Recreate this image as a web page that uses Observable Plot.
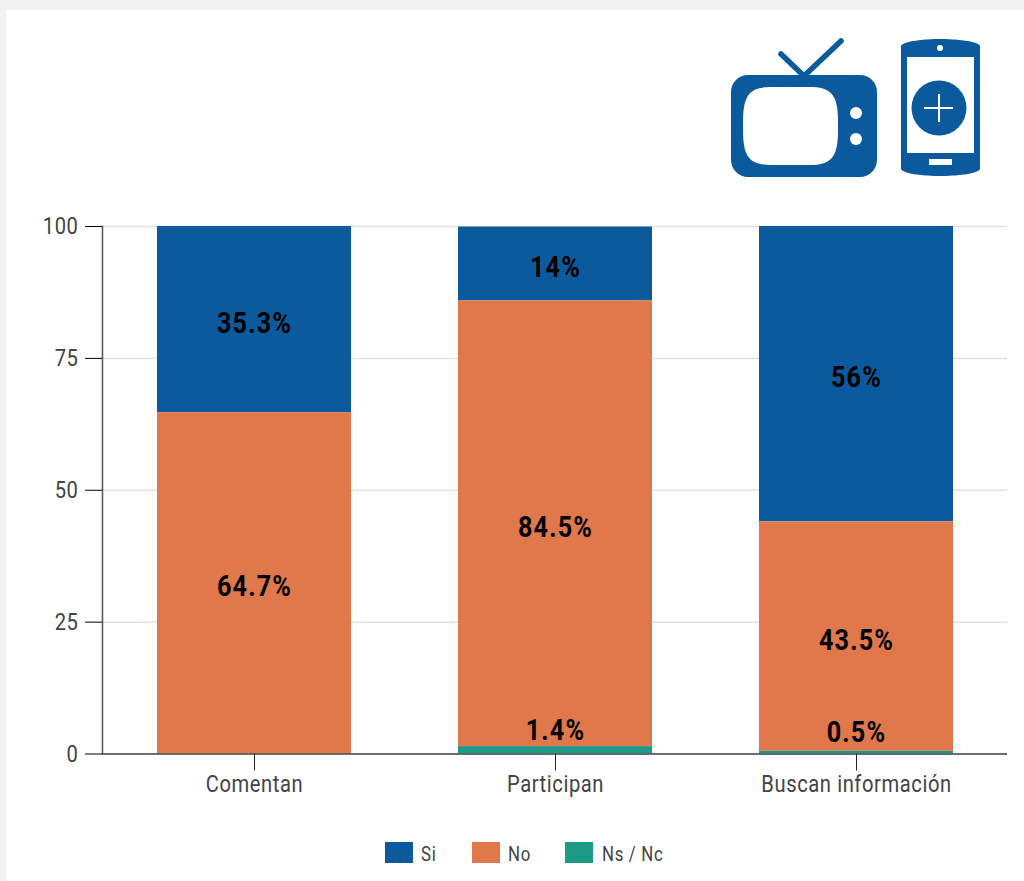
<!DOCTYPE html>
<html lang="es">
<head>
<meta charset="utf-8">
<script src="https://cdn.jsdelivr.net/npm/d3@7"></script>
<script src="https://cdn.jsdelivr.net/npm/@observablehq/plot@0.6"></script>
<style>
  html, body { margin: 0; padding: 0; background: #f2f2f2; }
  #page { position: absolute; left: 6px; top: 10px; width: 1018px; height: 871px; background: #fff; overflow: hidden; }
  #stage { position: absolute; left: 0; top: 0; width: 1024px; height: 881px; }
  #chart, #icons { position: absolute; left: 0; top: 0; }
  #legend { position: absolute; left: 0; top: 842px; height: 21px; font: 20px Roboto, sans-serif; letter-spacing: 0.8px; color: #444; }
  #legend .key { position: absolute; top: 0; width: 28px; height: 21px; }
  #legend .name { position: absolute; top: 2px; line-height: 21px; white-space: nowrap; transform-origin: left center; transform: scaleX(0.84); }
</style>
</head>
<body>
<div id="page"></div>
<div id="stage">
  <div id="chart"></div>
  <svg id="icons" width="1024" height="200" viewBox="0 0 1024 200">
    <!-- television -->
    <g fill="#0b5a9e">
      <path d="M804 76 L781 54 M804 76 L841 41" stroke="#0b5a9e" stroke-width="5.5" stroke-linecap="round" fill="none"/>
      <rect x="731" y="75" width="146" height="102" rx="17"/>
      <path fill="#fff" d="M743 122 C743 94 750 87 772 87 L809 87 C831 87 838 94 838 122 L838 130 C838 158 831 165 809 165 L772 165 C750 165 743 158 743 130 Z"/>
      <circle cx="856" cy="113" r="6" fill="#fff"/>
      <circle cx="856" cy="139" r="6" fill="#fff"/>
    </g>
    <!-- phone -->
    <g fill="#0b5a9e">
      <path d="M901 46 C903 41 925 39 940 39 C955 39 978 41 980 46 L980 169 C978 174 955 176 940 176 C925 176 903 174 901 169 Z"/>
      <rect x="907" y="57" width="67" height="96" fill="#fff"/>
      <circle cx="940" cy="48" r="3" fill="#fff"/>
      <circle cx="939" cy="108" r="27.5"/>
      <path d="M924 108 H953 M939 94 V122" stroke="#fff" stroke-width="2" fill="none"/>
      <rect x="929" y="159" width="23" height="6" fill="#fff"/>
    </g>
  </svg>
  <div id="legend"></div>
</div>
<script>
// Share of respondents per activity while watching television with a phone at hand
const actividades = ["Comentan", "Participan", "Buscan información"];
const respuestas = ["Si", "No", "Ns / Nc"];
const colores = ["#0b5a9e", "#e0784c", "#1c9a88"];
const si = [35.3, 14, 56];
const no = [64.7, 84.5, 43.5];
const nsnc = [0, 1.4, 0.5];
const marcasY = [0, 25, 50, 75, 100];

const filas = actividades.flatMap((actividad, i) => [
  {actividad, respuesta: "Si", valor: si[i]},
  {actividad, respuesta: "No", valor: no[i]},
  {actividad, respuesta: "Ns / Nc", valor: nsnc[i]}
]);

const apilado = {x: "actividad", y: "valor", z: "respuesta", order: ["Ns / Nc", "No", "Si"]};
const etiqueta = (d) => `${d.valor}%`;
const FONT = "Roboto, sans-serif";

const chart = Plot.plot({
  width: 1024,
  height: 830,
  marginTop: 226,
  marginBottom: 76.5,
  marginLeft: 102,
  marginRight: 17,
  style: {background: "transparent", fontFamily: FONT},
  x: {domain: actividades, range: [103, 1007.5], paddingInner: 0.356, paddingOuter: 0.178, label: null},
  y: {domain: [0, 100], label: null},
  color: {domain: respuestas, range: colores},
  marks: [
    Plot.gridY(marcasY, {stroke: "#e2e2e2", strokeOpacity: 1, strokeWidth: 1.5}),
    Plot.barY(filas, Plot.stackY({...apilado, fill: "respuesta"})),
    Plot.text(filas, Plot.stackY({
      ...apilado,
      text: (d) => d.respuesta === "Ns / Nc" ? "" : etiqueta(d),
      dy: 3.5, fontSize: 30, fontWeight: 700, fill: "#000"
    })),
    Plot.text(filas, Plot.stackY({
      ...apilado,
      text: (d) => d.respuesta === "Ns / Nc" && d.valor > 0 ? etiqueta(d) : "",
      dy: -20, fontSize: 30, fontWeight: 700, fill: "#000"
    })),
    Plot.frame({anchor: "left", stroke: "#555", strokeWidth: 1.5}),
    Plot.axisY({ticks: marcasY, tickSize: 17, tickPadding: 7, fontSize: 24, stroke: "#000", fill: "#444", label: null}),
    Plot.axisX({tickSize: 17, tickPadding: 4, fontSize: 24, stroke: "#222", fill: "#444", label: null}),
    Plot.ruleY([0], {stroke: "#444", strokeWidth: 1.5})
  ]
});
document.getElementById("chart").append(chart);

// The typeface has no condensed cut installed, so narrow each label's glyphs
// and open up the tracking a little
chart.querySelectorAll("text").forEach((t) => {
  const size = parseFloat(getComputedStyle(t).fontSize);
  t.style.letterSpacing = size >= 26 ? "1.4px" : "0.7px";
  const anchor = t.querySelector("tspan") || t;
  const length = t.getComputedTextLength();
  if (length > 0) {
    anchor.setAttribute("textLength", length * 0.84);
    anchor.setAttribute("lengthAdjust", "spacingAndGlyphs");
  }
});

// Legend row under the chart
const legend = document.getElementById("legend");
const posiciones = [[385, 421], [472, 508], [565, 602]];
respuestas.forEach((r, i) => {
  const key = document.createElement("div");
  key.className = "key";
  key.style.left = posiciones[i][0] + "px";
  key.style.background = colores[i];
  const name = document.createElement("div");
  name.className = "name";
  name.style.left = posiciones[i][1] + "px";
  name.textContent = r;
  legend.append(key, name);
});
</script>
</body>
</html>
